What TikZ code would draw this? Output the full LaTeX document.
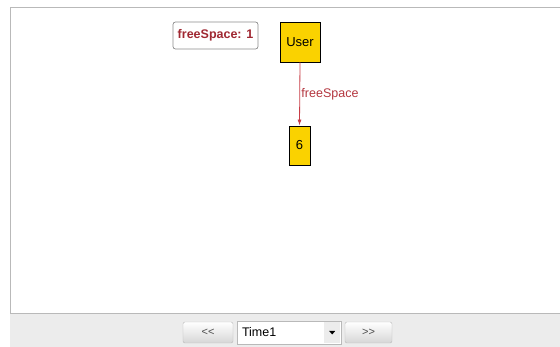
\documentclass[tikz,border=0pt]{standalone}
\usepackage{fontspec}
\setmainfont{Liberation Sans}
\usetikzlibrary{arrows.meta}
\definecolor{gold}{RGB}{250,210,0}
\definecolor{linkred}{RGB}{200,60,70}
\definecolor{labelred}{RGB}{160,40,50}
\definecolor{panelgray}{RGB}{236,236,236}
\definecolor{framegray}{RGB}{185,185,185}
\definecolor{notegray}{RGB}{140,140,140}
\begin{document}
\begin{tikzpicture}[x=1pt,y=-1pt,
  objbox/.style={draw=black,line width=0.9pt,fill=gold,inner sep=0pt,font=\fontsize{13}{15}\selectfont},
  notebox/.style={draw=notegray,line width=0.7pt,rounded corners=2.5pt,fill=white,inner sep=0pt,font=\bfseries\fontsize{12.5}{14}\selectfont,text=labelred},
  link/.style={draw=linkred,line width=0.8pt,-{Latex[length=6pt,width=4pt]}},
  btn/.style={draw=framegray,rounded corners=2pt,top color=white,bottom color=panelgray!80!gray,inner sep=0pt,font=\fontsize{11}{13}\selectfont,text=black!70}]
\useasboundingbox (0,0) rectangle (560,347);
% main canvas and bottom toolbar
\fill[white] (0,0) rectangle (560,347);
\fill[panelgray] (10,313) rectangle (560,347);
\draw[framegray,line width=0.8pt] (560,7) -- (10,7) -- (10,313) -- (560,313);
% diagram
\node[notebox,minimum width=85pt,minimum height=27pt] (note) at (215.5,35.5) {freeSpace: 1};
\node[objbox,minimum width=40pt,minimum height=40pt] (user) at (300,42) {User};
\node[objbox,minimum width=21pt,minimum height=39pt] (six) at (299.5,145.5) {6};
\draw[link] (user.south) -- node[right,xshift=-2pt,text=linkred!90!black,font=\fontsize{12.5}{14}\selectfont] (lbl) {freeSpace} (six.north);
% navigation controls
\node[btn,minimum width=50pt,minimum height=21pt] (prev) at (208,332.5) {{<}{<}};
\node[draw=framegray,fill=white,minimum width=104pt,minimum height=23pt,inner sep=0pt] (combo) at (289,332.5) {};
\node[anchor=west,inner sep=0pt,font=\fontsize{12.5}{14}\selectfont] (ctext) at ([xshift=5pt]combo.west) {Time1};
\node[fill=panelgray,minimum width=16pt,minimum height=21pt,inner sep=0pt] (drop) at ([xshift=-9pt]combo.east) {};
% downward pointing triangle of the drop-down
\fill[black] ([xshift=-3pt,yshift=1.5pt]drop.center) -- ([xshift=3pt,yshift=1.5pt]drop.center) -- ([yshift=-2pt]drop.center) -- cycle;
\node[btn,minimum width=47pt,minimum height=21pt] (next) at (368.5,332.5) {{>}{>}};
\end{tikzpicture}
\end{document}
